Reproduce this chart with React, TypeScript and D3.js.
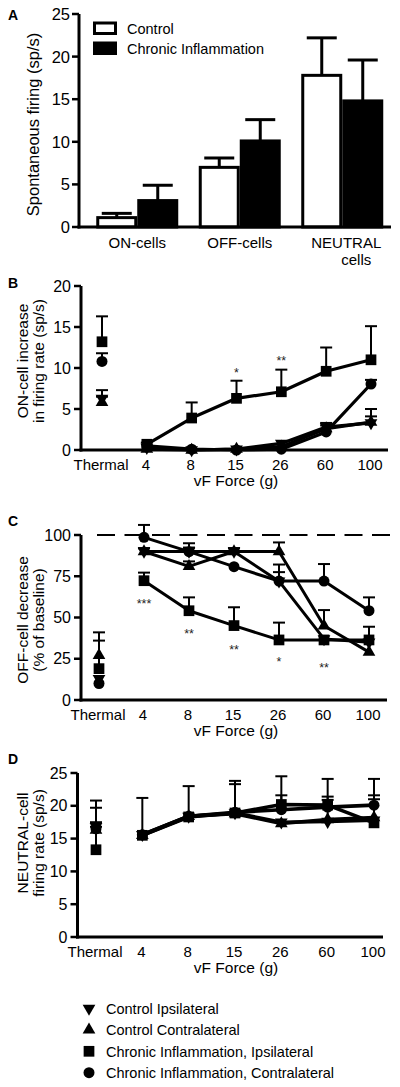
import React from "react";
import * as d3 from "d3";

// ---------- Panel A data ----------
const barCategories = ["ON-cells", "OFF-cells", "NEUTRAL cells"];
const barGroups = ["Control", "Chronic Inflammation"];
const controlMean = [1.1, 7.0, 17.8];
const controlSem = [0.5, 1.1, 4.4];
const inflamMean = [3.1, 10.1, 14.8];
const inflamSem = [1.8, 2.5, 4.8];
const barTicks = [0, 5, 10, 15, 20, 25];

// ---------- Shared x categories ----------
const stimuli = ["Thermal", "4", "8", "15", "26", "60", "100"];
const seriesNames = [
  "Control Ipsilateral",
  "Control Contralateral",
  "Chronic Inflammation, Ipsilateral",
  "Chronic Inflammation, Contralateral",
];
const seriesSymbols = ["triangleDown", "triangleUp", "square", "circle"];

// ---------- Panel B (ON-cell increase, sp/s) ----------
const onCtrlIpsi = [6.3, 0.3, 0.0, 0.1, 0.8, 2.8, 3.3];
const onCtrlIpsiSem = [1.0, 0, 0, 0, 0, 0.5, 1.7];
const onCtrlContra = [5.8, 0.1, 0.0, 0.1, 0.4, 2.6, 3.4];
const onCtrlContraSem = [0.7, 0, 0, 0, 0, 0.4, 0.7];
const onInflIpsi = [13.2, 0.7, 3.9, 6.3, 7.1, 9.6, 11.0];
const onInflIpsiSem = [3.1, 0.2, 1.9, 2.15, 2.7, 2.9, 4.1];
const onInflContra = [10.8, 0.5, 0.1, 0.0, 0.1, 2.2, 8.05];
const onInflContraSem = [1.0, 0, 0, 0, 0, 0, 0.5];
const onTicks = [0, 5, 10, 15, 20];
const onStars = ["", "", "", "*", "**", "", ""];
const onStarValues = [0, 0, 0, 9.8, 11.2, 0, 0];

// ---------- Panel C (OFF-cell decrease, % of baseline) ----------
const offCtrlIpsi = [13, 90, 90, 90, 72, 37, 35];
const offCtrlIpsiSem = [0, 2, 5, 2, 5.5, 0, 0];
const offCtrlContra = [27, 90, 81, 90, 90, 45, 29];
const offCtrlContraSem = [14, 2, 3, 2, 5.5, 9.5, 0];
const offInflIpsi = [19, 72.3, 54.1, 45.1, 36.4, 36.4, 36.4];
const offInflIpsiSem = [17, 4.9, 8.1, 11.1, 10.5, 0, 8];
const offInflContra = [10, 98.6, 89.9, 80.8, 72.1, 72.1, 54.1];
const offInflContraSem = [0, 7.5, 2.5, 0, 10, 10.3, 8.1];
const offTicks = [0, 25, 50, 75, 100];
const offStars = ["", "***", "**", "**", "*", "**", ""];
const offStarValues = [0, 60, 42, 32, 25, 21, 0];
const offBaseline = 100;

// ---------- Panel D (NEUTRAL-cell firing rate, sp/s) ----------
const neuCtrlIpsi = [16.8, 15.6, 18.4, 18.9, 17.5, 17.6, 17.8];
const neuCtrlIpsiSem = [4.0, 0, 0, 0, 0, 3.3, 0];
const neuCtrlContra = [16.3, 15.5, 18.4, 18.8, 17.3, 17.9, 18.2];
const neuCtrlContraSem = [3.4, 0, 0, 0, 0, 0, 2.8];
const neuInflIpsi = [13.3, 15.5, 18.3, 18.9, 20.2, 20.1, 17.4];
const neuInflIpsiSem = [3.5, 5.7, 4.7, 4.9, 4.3, 1.3, 4.2];
const neuInflContra = [16.5, 15.6, 18.4, 19.0, 19.4, 19.8, 20.1];
const neuInflContraSem = [1.0, 0, 0, 4.3, 2.2, 4.3, 4.0];
const neuTicks = [0, 5, 10, 15, 20, 25];

const FONT = "'Liberation Sans', Arial, Helvetica, sans-serif";

function symbolPath(kind: string): { d: string; rot: number } {
  if (kind === "square") return { d: d3.symbol(d3.symbolSquare, 115)() as string, rot: 0 };
  if (kind === "circle") return { d: d3.symbol(d3.symbolCircle, 95)() as string, rot: 0 };
  const d = d3.symbol(d3.symbolTriangle, 70)() as string;
  return { d, rot: kind === "triangleDown" ? 180 : 0 };
}

type Series = { values: number[]; sem: number[]; symbol: string };

type LinePanelProps = {
  letter: string;
  letterY: number;
  axisX: number;
  axisRight: number;
  yTop: number;
  yBottom: number;
  yMax: number;
  ticks: number[];
  xRange: [number, number];
  series: Series[];
  titleLines: string[];
  titleCenter: number;
  lineWidth: number;
  stars?: string[];
  starValues?: number[];
  dashedAt?: number;
};

function LinePanel(p: LinePanelProps) {
  const y = d3.scaleLinear().domain([0, p.yMax]).range([p.yBottom, p.yTop]);
  const x = d3.scalePoint<string>().domain(stimuli).range(p.xRange);
  const line = d3
    .line<number>()
    .x((_, i) => x(stimuli[i + 1]) as number)
    .y((v) => y(v));
  return (
    <g fontFamily={FONT}>
      <text x={8} y={p.letterY + 5} fontSize={14} fontWeight="bold">
        {p.letter}
      </text>
      {p.dashedAt !== undefined && (
        <line
          x1={p.axisX + 16}
          x2={398}
          y1={y(p.dashedAt)}
          y2={y(p.dashedAt)}
          stroke="#000"
          strokeWidth={2}
          strokeDasharray="18,9.5"
        />
      )}
      <line x1={p.axisX} x2={p.axisX} y1={p.yTop} y2={p.yBottom + 1.5} stroke="#000" strokeWidth={3} />
      <line x1={p.axisX - 1.5} x2={p.axisRight} y1={p.yBottom} y2={p.yBottom} stroke="#000" strokeWidth={3} />
      {p.ticks.map((t) => (
        <g key={t}>
          <line x1={p.axisX - 7} x2={p.axisX} y1={y(t)} y2={y(t)} stroke="#000" strokeWidth={2.5} />
          <text x={p.axisX - 10} y={y(t) + 5.6} fontSize={16} textAnchor="end">
            {t}
          </text>
        </g>
      ))}
      {stimuli.map((s) => (
        <text key={s} x={(x(s) as number) - 1} y={p.yBottom + 19.5} fontSize={15} textAnchor="middle">
          {s}
        </text>
      ))}
      <text x={236} y={p.yBottom + 35.5} fontSize={15.5} textAnchor="middle">
        vF Force (g)
      </text>
      {p.titleLines.map((t, i) => (
        <text
          key={t}
          transform={`translate(${28 + i * 16},${p.titleCenter}) rotate(-90)`}
          fontSize={15.5}
          textAnchor="middle"
        >
          {t}
        </text>
      ))}
      {p.series.map((s, si) =>
        s.values.map((v, i) =>
          s.sem[i] > 0 ? (
            <g key={`e${si}-${i}`} stroke="#000" strokeWidth={2}>
              <line x1={x(stimuli[i])} x2={x(stimuli[i])} y1={y(v)} y2={y(v + s.sem[i])} />
              <line
                x1={(x(stimuli[i]) as number) - 6}
                x2={(x(stimuli[i]) as number) + 6}
                y1={y(v + s.sem[i])}
                y2={y(v + s.sem[i])}
              />
            </g>
          ) : null
        )
      )}
      {p.series.map((s, si) => (
        <path
          key={`l${si}`}
          d={line(s.values.slice(1)) as string}
          fill="none"
          stroke="#000"
          strokeWidth={p.lineWidth}
          strokeLinejoin="round"
        />
      ))}
      {p.series.map((s, si) => {
        const sym = symbolPath(s.symbol);
        return s.values.map((v, i) => (
          <path
            key={`m${si}-${i}`}
            d={sym.d}
            transform={`translate(${x(stimuli[i])},${y(v)}) rotate(${sym.rot})`}
            fill="#000"
          />
        ));
      })}
      {p.stars &&
        p.stars.map((st, i) =>
          st ? (
            <text
              key={`s${i}`}
              x={x(stimuli[i])}
              y={y(p.starValues![i]) + 7}
              fontSize={12.5}
              textAnchor="middle"
              fill="#222"
            >
              {st}
            </text>
          ) : null
        )}
    </g>
  );
}

function BarPanel() {
  const y = d3.scaleLinear().domain([0, 25]).range([227, 14]);
  const x0 = d3.scaleBand<string>().domain(barCategories).range([86, 393.5]).paddingInner(0.2).paddingOuter(0.1);
  const x1 = d3.scaleBand<string>().domain(barGroups).range([0, x0.bandwidth()]).padding(0);
  const means = [controlMean, inflamMean];
  const sems = [controlSem, inflamSem];
  const axisX = 79;
  return (
    <g fontFamily={FONT}>
      <text x={8} y={20} fontSize={14} fontWeight="bold">
        A
      </text>
      {barGroups.map((g, gi) =>
        barCategories.map((c, ci) => {
          const bx = (x0(c) as number) + (x1(g) as number);
          const bw = x1.bandwidth();
          const cx = bx + bw / 2;
          const m = means[gi][ci];
          const e = m + sems[gi][ci];
          return (
            <g key={`${g}-${c}`}>
              <line x1={cx} x2={cx} y1={y(m)} y2={y(e)} stroke="#000" strokeWidth={3} />
              <line x1={cx - 15} x2={cx + 15} y1={y(e)} y2={y(e)} stroke="#000" strokeWidth={3} />
              <rect
                x={bx + 1.5}
                y={y(m)}
                width={bw - 3}
                height={y(0) - y(m)}
                fill={gi === 0 ? "#fff" : "#000"}
                stroke="#000"
                strokeWidth={3}
              />
            </g>
          );
        })
      )}
      <line x1={axisX} x2={axisX} y1={14} y2={228.5} stroke="#000" strokeWidth={3} />
      <line x1={axisX - 1.5} x2={391} y1={227} y2={227} stroke="#000" strokeWidth={3} />
      {barTicks.map((t) => (
        <g key={t}>
          <line x1={axisX - 7} x2={axisX} y1={y(t)} y2={y(t)} stroke="#000" strokeWidth={2.5} />
          <text x={axisX - 9} y={y(t) + 6} fontSize={16.5} textAnchor="end">
            {t}
          </text>
        </g>
      ))}
      {barCategories.map((c) => {
        const cx = (x0(c) as number) + x0.bandwidth() / 2;
        const parts = c.split(" ");
        return (
          <text key={c} fontSize={15} textAnchor="middle">
            {parts.map((pt, i) => (
              <tspan key={pt} x={cx + (parts.length > 1 ? 4 + i * 10 : 0)} y={247.5 + i * 17}>
                {pt}
              </tspan>
            ))}
          </text>
        );
      })}
      <text transform="translate(39,124.5) rotate(-90)" fontSize={16.5} textAnchor="middle">
        Spontaneous firing (sp/s)
      </text>
      {barGroups.map((g, gi) => (
        <g key={g}>
          <rect
            x={94.5}
            y={23 + gi * 20}
            width={21}
            height={10.5}
            fill={gi === 0 ? "#fff" : "#000"}
            stroke="#000"
            strokeWidth={3}
          />
          <text x={127} y={33.5 + gi * 20.5} fontSize={14.5}>
            {g}
          </text>
        </g>
      ))}
    </g>
  );
}

function Legend() {
  return (
    <g fontFamily={FONT}>
      {seriesNames.map((n, i) => {
        const sym = symbolPath(seriesSymbols[i]);
        const cy = 1008.5 + i * 21.4;
        return (
          <g key={n}>
            <path d={sym.d} transform={`translate(89,${cy}) rotate(${sym.rot})`} fill="#000" />
            <text x={106} y={cy + 5.3} fontSize={14.5}>
              {n}
            </text>
          </g>
        );
      })}
    </g>
  );
}

function mk(vals: number[][], sems: number[][]): Series[] {
  return vals.map((v, i) => ({ values: v, sem: sems[i], symbol: seriesSymbols[i] }));
}

export default function App() {
  const onSeries = mk(
    [onCtrlIpsi, onCtrlContra, onInflIpsi, onInflContra],
    [onCtrlIpsiSem, onCtrlContraSem, onInflIpsiSem, onInflContraSem]
  );
  const offSeries = mk(
    [offCtrlIpsi, offCtrlContra, offInflIpsi, offInflContra],
    [offCtrlIpsiSem, offCtrlContraSem, offInflIpsiSem, offInflContraSem]
  );
  const neuSeries = mk(
    [neuCtrlIpsi, neuCtrlContra, neuInflIpsi, neuInflContra],
    [neuCtrlIpsiSem, neuCtrlContraSem, neuInflIpsiSem, neuInflContraSem]
  );
  return (
    <svg
      width={400}
      height={1087}
      viewBox="0 0 400 1087"
      style={{ position: "absolute", left: 0, top: 0, background: "#fff" }}
    >
      <rect width={400} height={1087} fill="#fff" />
      <BarPanel />
      <LinePanel
        letter="B"
        letterY={283}
        axisX={81}
        axisRight={388}
        yTop={286}
        yBottom={450}
        yMax={20}
        ticks={onTicks}
        xRange={[102, 371]}
        series={onSeries}
        titleLines={["ON-cell increase", "in firing rate (sp/s)"]}
        titleCenter={361}
        lineWidth={3.2}
        stars={onStars}
        starValues={onStarValues}
      />
      <LinePanel
        letter="C"
        letterY={521}
        axisX={81}
        axisRight={387}
        yTop={535}
        yBottom={700}
        yMax={100}
        ticks={offTicks}
        xRange={[99, 369]}
        series={offSeries}
        titleLines={["OFF-cell decrease", "(% of baseline)"]}
        titleCenter={620}
        lineWidth={3}
        stars={offStars}
        starValues={offStarValues}
        dashedAt={offBaseline}
      />
      <LinePanel
        letter="D"
        letterY={759}
        axisX={77.5}
        axisRight={383}
        yTop={773}
        yBottom={937}
        yMax={25}
        ticks={neuTicks}
        xRange={[96, 374]}
        series={neuSeries}
        titleLines={["NEUTRAL-cell", "firing rate (sp/s)"]}
        titleCenter={843}
        lineWidth={3.6}
      />
      <Legend />
    </svg>
  );
}
